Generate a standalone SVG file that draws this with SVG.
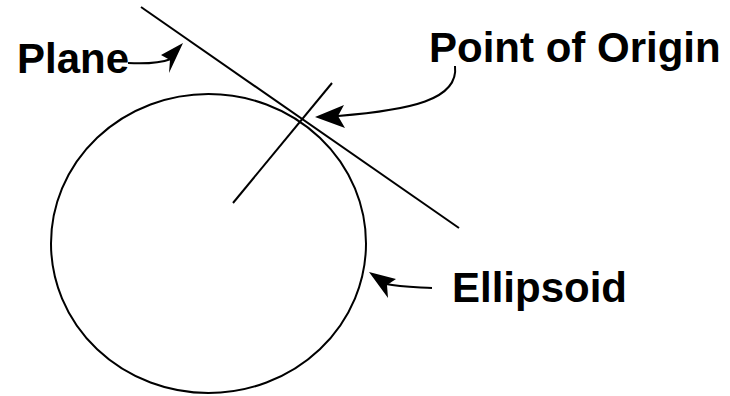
<svg xmlns="http://www.w3.org/2000/svg" width="730" height="396" viewBox="0 0 730 396">
<style>
.ln{fill:none;stroke:#000;stroke-width:2}
.ah{fill:#000;stroke:none}
.lbl{font-family:"Liberation Sans",Arial,sans-serif;font-weight:bold;font-size:42px;fill:#000}
</style>
<rect width="730" height="396" fill="#fff"/>
<g id="ellipsoid">
<ellipse class="ln" cx="208.5" cy="243.5" rx="157.5" ry="149.5"/>
</g>
<g id="plane">
<line class="ln" x1="141" y1="7" x2="459" y2="228"/>
</g>
<g id="normal">
<line class="ln" x1="233" y1="203" x2="332" y2="83"/>
</g>
<g id="label-plane"><text class="lbl" x="17" y="73">Plane</text></g>
<g id="label-origin"><text class="lbl" x="429" y="62">Point of Origin</text></g>
<g id="label-ellipsoid"><text class="lbl" x="452" y="302">Ellipsoid</text></g>
<g id="connectors">
<path class="ln" d="M128,63 C145,64 160,63 171,59"/>
<polygon class="ah" points="183,43 161,55 170,60 169,73"/>
<path class="ln" d="M455,66 C459,100 410,110 338,116"/>
<polygon class="ah" points="315,117 344,105 338,116 345,128"/>
<path class="ln" d="M432,288 C415,287 400,287 386,284"/>
<polygon class="ah" points="369,272 396,279 387,285 388,298"/>
</g>
</svg>
